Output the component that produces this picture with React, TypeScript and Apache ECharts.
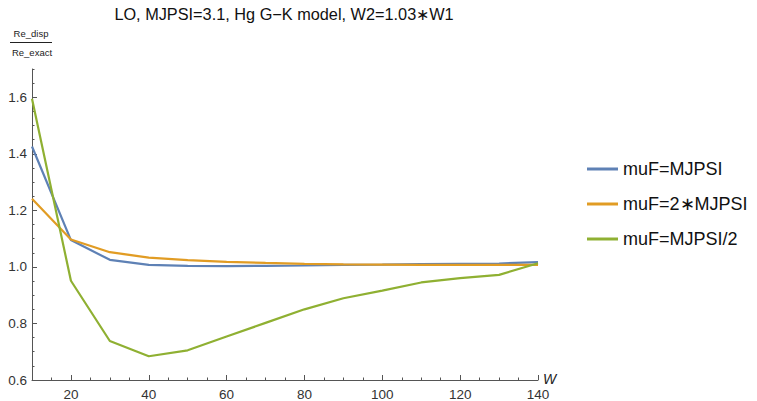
import React, { useEffect, useRef } from "react";
import * as echarts from "echarts";

const wValues = [10, 20, 30, 40, 50, 60, 70, 80, 90, 100, 110, 120, 130, 140];
const seriesNames = ["muF=MJPSI", "muF=2\u2217MJPSI", "muF=MJPSI/2"];
const muMjpsi = [1.426, 1.095, 1.025, 1.007, 1.004, 1.003, 1.004, 1.005, 1.007, 1.008, 1.01, 1.011, 1.012, 1.017];
const mu2Mjpsi = [1.241, 1.097, 1.052, 1.033, 1.024, 1.018, 1.014, 1.011, 1.009, 1.008, 1.007, 1.007, 1.007, 1.007];
const muHalfMjpsi = [1.595, 0.951, 0.738, 0.684, 0.705, 0.754, 0.802, 0.85, 0.889, 0.916, 0.945, 0.96, 0.972, 1.013];
const xMajorTicks = [20, 40, 60, 80, 100, 120, 140];
const yMajorTicks = [0.6, 0.8, 1.0, 1.2, 1.4, 1.6];
const colors = ["#5E81B5", "#E19C24", "#8FB032"];
const titleText = "LO, MJPSI=3.1, Hg G\u2212K model, W2=1.03\u2217W1";

export default function App() {
  const ref = useRef<HTMLDivElement>(null);
  useEffect(() => {
    if (!ref.current) return;
    const chart = echarts.init(ref.current, null, { renderer: "svg" });
    const font = "Liberation Sans, Arial, sans-serif";
    const dataSets = [muMjpsi, mu2Mjpsi, muHalfMjpsi];
    chart.setOption({
      animation: false,
      backgroundColor: "#ffffff",
      textStyle: { fontFamily: font },
      grid: { left: 32, right: 219, top: 69, bottom: 18, containLabel: false },
      legend: {
        orient: "vertical",
        left: 582,
        top: 153,
        itemWidth: 31,
        itemHeight: 3,
        itemGap: 13,
        icon: "rect",
        data: seriesNames,
        textStyle: { fontSize: 18, color: "#111", fontFamily: font, lineHeight: 22 },
      },
      xAxis: [
        {
          type: "value",
          min: 10,
          max: 140,
          interval: 10,
          name: "W",
          nameLocation: "end",
          nameGap: 5,
          nameTextStyle: { fontStyle: "italic", fontSize: 14, color: "#222", verticalAlign: "bottom", padding: [0, 0, -6, 0] },
          axisLine: { show: true, onZero: false, lineStyle: { color: "#555", width: 1 } },
          axisTick: { show: true, inside: true, length: 5, lineStyle: { color: "#555" }, customValues: xMajorTicks },
          axisLabel: { show: true, fontSize: 13.5, color: "#333", margin: 7, customValues: xMajorTicks },
          splitLine: { show: false },
        },
        {
          type: "value",
          min: 10,
          max: 140,
          interval: 5,
          position: "bottom",
          axisLine: { show: false },
          axisTick: { show: true, inside: true, length: 2.5, lineStyle: { color: "#555" } },
          axisLabel: { show: false },
          splitLine: { show: false },
        },
      ],
      yAxis: [
        {
          type: "value",
          min: 0.6,
          max: 1.7,
          interval: 0.2,
          axisLine: { show: true, onZero: false, lineStyle: { color: "#555", width: 1 } },
          axisTick: { show: true, inside: true, length: 5, lineStyle: { color: "#555" }, customValues: yMajorTicks },
          axisLabel: {
            show: true,
            fontSize: 13.5,
            color: "#333",
            margin: 5,
            customValues: yMajorTicks,
            formatter: (v: number) => v.toFixed(1),
          },
          splitLine: { show: false },
        },
        {
          type: "value",
          min: 0.6,
          max: 1.7,
          interval: 0.05,
          position: "left",
          axisLine: { show: false },
          axisTick: { show: true, inside: true, length: 2.5, lineStyle: { color: "#555" } },
          axisLabel: { show: false },
          splitLine: { show: false },
        },
      ],
      series: seriesNames.map((name, i) => ({
        name,
        type: "line",
        xAxisIndex: 0,
        yAxisIndex: 0,
        showSymbol: false,
        symbol: "none",
        data: wValues.map((w, j) => [w, dataSets[i][j]]),
        lineStyle: { color: colors[i], width: 2.2 },
        itemStyle: { color: colors[i] },
        z: 2 + i,
      })),
      graphic: [
        {
          type: "text",
          x: 284,
          y: 14,
          style: { text: titleText, fontSize: 16.3, fill: "#111", fontFamily: font, align: "center", verticalAlign: "middle" },
        },
        {
          type: "text",
          x: 31,
          y: 33,
          style: { text: "Re_disp", fontSize: 9.5, fill: "#222", fontFamily: font, align: "center", verticalAlign: "middle" },
        },
        {
          type: "line",
          shape: { x1: 10, y1: 42.5, x2: 52, y2: 42.5 },
          style: { stroke: "#222", lineWidth: 1 },
        },
        {
          type: "text",
          x: 32,
          y: 52,
          style: { text: "Re_exact", fontSize: 9.5, fill: "#222", fontFamily: font, align: "center", verticalAlign: "middle" },
        },
      ],
    });
    return () => chart.dispose();
  }, []);
  return <div ref={ref} style={{ position: "fixed", left: 0, top: 0, width: 757, height: 401 }} />;
}
